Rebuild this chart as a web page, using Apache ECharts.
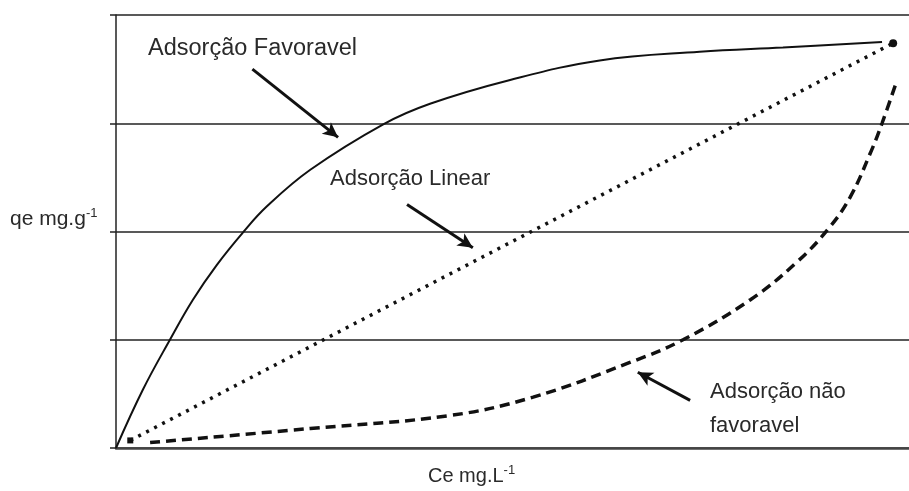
<!DOCTYPE html>
<html>
<head>
<meta charset="utf-8">
<script src="https://cdn.jsdelivr.net/npm/echarts@6/dist/echarts.min.js"></script>
<style>
html,body{margin:0;padding:0;background:#fff;}
#chart{width:909px;height:491px;}
</style>
</head>
<body>
<div id="chart"></div>
<script>
// Data (Ce, qe), in axis units
const yTicks = [0, 1, 2, 3, 4];
const favoravel = [
  [0, 0], [3.4, 0.54], [6.8, 1.0], [9.7, 1.37], [12.7, 1.69], [16.0, 1.99],
  [19.0, 2.23], [24.5, 2.57], [33.7, 2.99], [39.6, 3.18],
  [49.7, 3.40], [61.0, 3.58], [73.6, 3.66], [84.1, 3.70], [96.6, 3.75]
];
const linear = [[1.8, 0.07], [98.0, 3.74]];
const naoFavoravel = [
  [4.3, 0.05], [24.5, 0.18], [42.1, 0.30], [52.6, 0.47], [64.8, 0.79],
  [71.5, 1.0], [80.0, 1.37], [85.9, 1.72], [90.0, 2.04], [92.6, 2.32],
  [95.1, 2.72], [96.6, 3.0], [98.5, 3.40]
];
// Annotation arrows [from, to] in axis units
const arrowFav = [[17.2, 3.50], [28.0, 2.87]];
const arrowLin = [[36.7, 2.25], [45.0, 1.85]];
const arrowNao = [[72.4, 0.44], [65.8, 0.70]];

const chart = echarts.init(document.getElementById('chart'), null, {renderer: 'canvas'});
const FONT = 'Liberation Sans, Arial, sans-serif';
const textCol = '#2a2a2a';

function arrowLine(seg) {
  return [{coord: seg[0], symbol: 'none'}, {coord: seg[1], symbol: 'arrow'}];
}

const option = {
  backgroundColor: '#fff',
  animation: false,
  grid: {left: 116, right: 0, top: 15, bottom: 43, containLabel: false},
  xAxis: {
    type: 'value', min: 0, max: 100,
    axisLine: {show: true, lineStyle: {color: '#444', width: 2.5}},
    axisTick: {show: false}, axisLabel: {show: false}, splitLine: {show: false}
  },
  yAxis: {
    type: 'value', min: yTicks[0], max: yTicks[yTicks.length - 1], interval: 1,
    axisLine: {show: true, onZero: false, lineStyle: {color: '#222', width: 1.5}},
    axisTick: {show: true, length: 6, inside: false, lineStyle: {color: '#222', width: 1.5}},
    axisLabel: {show: false},
    splitLine: {show: true, lineStyle: {color: '#222', width: 1.5}}
  },
  series: [
    {
      type: 'line', name: 'Adsorção Favoravel', data: favoravel,
      smooth: 0.4, showSymbol: false,
      lineStyle: {color: '#111', width: 2},
      markLine: {
        silent: true, symbolSize: [11, 15], label: {show: false},
        lineStyle: {color: '#111', width: 3, type: 'solid'},
        data: [arrowLine(arrowFav), arrowLine(arrowLin), arrowLine(arrowNao)]
      }
    },
    {
      type: 'line', name: 'Adsorção Linear',
      data: linear.map((p, i) => i === linear.length - 1
        ? {value: p, symbol: 'circle', symbolSize: 8, itemStyle: {color: '#111'}}
        : {value: p, symbol: 'rect', symbolSize: 6, itemStyle: {color: '#111'}}),
      showSymbol: true, showAllSymbol: true,
      lineStyle: {color: '#111', width: 3.5, type: [3, 6], cap: 'butt'}
    },
    {
      type: 'line', name: 'Adsorção não favoravel', data: naoFavoravel,
      smooth: 0.4, showSymbol: false,
      lineStyle: {color: '#111', width: 3.5, type: [10, 6], cap: 'butt'}
    }
  ],
  graphic: [
    {type: 'text', left: 148, top: 37, style: {text: 'Adsorção Favoravel', font: '23.5px ' + FONT, fill: textCol}},
    {type: 'text', left: 330, top: 168, style: {text: 'Adsorção Linear', font: '22px ' + FONT, fill: textCol}},
    {type: 'text', left: 710, top: 375, style: {text: 'Adsorção não\nfavoravel', font: '22px ' + FONT, fill: textCol, lineHeight: 34}},
    {type: 'text', left: 10, top: 207, style: {
      text: '{n|qe mg.g}{s|-1}', fill: textCol,
      rich: {n: {fontFamily: FONT, fontSize: 21, fill: textCol, lineHeight: 25}, s: {fontFamily: FONT, fontSize: 13, fill: textCol, verticalAlign: 'top', lineHeight: 25}}
    }},
    {type: 'text', left: 428, top: 464, style: {
      text: '{n|Ce mg.L}{s|-1}', fill: textCol,
      rich: {n: {fontFamily: FONT, fontSize: 20, fill: textCol, lineHeight: 24}, s: {fontFamily: FONT, fontSize: 13, fill: textCol, verticalAlign: 'top', lineHeight: 24}}
    }}
  ]
};
chart.setOption(option);
</script>
</body>
</html>
